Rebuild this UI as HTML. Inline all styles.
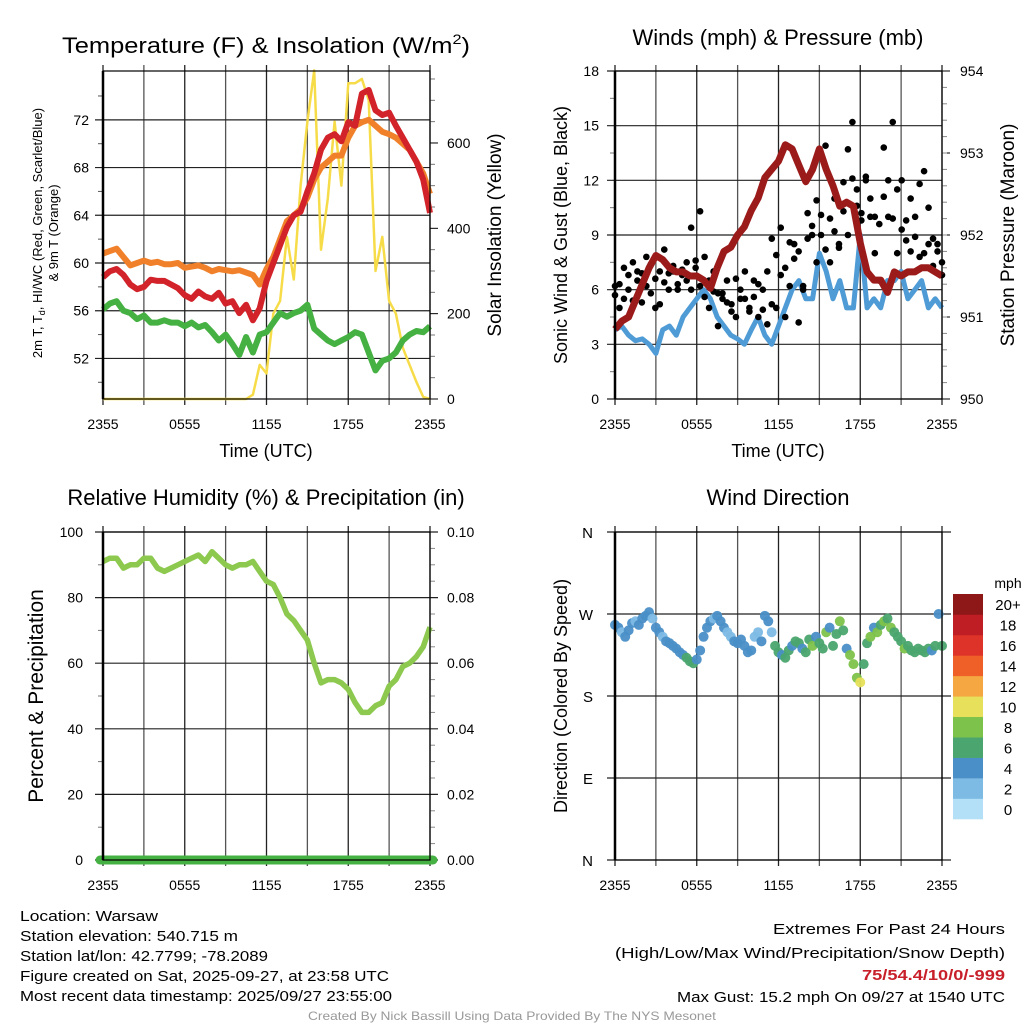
<!DOCTYPE html>
<html><head><meta charset="utf-8"><style>
html,body{margin:0;padding:0;background:#fff;}
svg{display:block;font-family:"Liberation Sans",Arial,sans-serif;}
</style></head><body>
<svg id="fig" width="1024" height="1024" viewBox="0 0 1024 1024"></svg>
<script>
// ---------- DATA ----------
const timeLabels = ["2355","0555","1155","1755","2355"];
const tempTicks = [52,56,60,64,68,72];
const solarTicks = [0,200,400,600];
const windTicks = [0,3,6,9,12,15,18];
const presTicks = [950,951,952,953,954];
const rhTicks = [0,20,40,60,80,100];
const precipTicks = ["0.00","0.02","0.04","0.06","0.08","0.10"];
const dirTicks = ["N","E","S","W","N"];
const colorbarLabels = ["0","2","4","6","8","10","12","14","16","18","20+"];
const colorbarColors = ["#b3e0f7","#7dbbe5","#4a8fc7","#4aa56e","#7dc24a","#e6e05a","#f5a742","#ef6028","#dd3328","#be1e24","#8e1717"];

const tempRed = [58.8,59.3,59.5,59.0,58.2,57.8,58.0,58.6,58.5,58.5,58.2,57.9,57.3,57.0,57.6,57.2,57.0,57.5,56.6,56.8,55.8,56.5,55.2,56.2,58.5,60.0,61.5,63.0,64.0,64.3,66.0,67.5,69.5,70.5,70.8,70.2,71.8,71.5,74.2,74.5,72.8,72.4,72.6,71.5,70.5,69.5,68.5,67.0,64.2];
const tempOrange = [60.8,61.0,61.2,60.5,59.8,60.0,60.2,60.0,60.1,59.9,59.9,60.0,59.6,59.7,59.8,59.6,59.3,59.5,59.4,59.3,59.4,59.2,59.0,58.2,59.5,60.5,62.0,63.5,64.0,64.5,65.5,67.0,68.0,68.5,69.0,69.0,70.5,71.5,71.8,72.0,71.5,71.0,70.8,70.5,70.0,69.5,68.5,67.5,65.8];
const dewGreen = [56.1,56.6,56.8,56.0,55.8,55.3,55.6,55.0,55.0,55.2,55.0,55.0,54.7,55.0,54.6,54.8,54.2,53.5,54.0,53.2,52.3,53.8,52.5,54.0,54.2,55.0,55.8,55.5,55.8,56.0,56.5,54.5,54.0,53.5,53.2,53.5,53.8,54.2,54.0,52.5,51.0,51.8,52.0,52.5,53.5,54.0,54.3,54.2,54.7];
const solar = [0,0,0,0,0,0,0,0,0,0,0,0,0,0,0,0,0,0,0,0,0,0,10,80,60,200,230,380,280,500,650,770,350,470,650,500,740,740,750,700,300,380,230,200,120,80,40,5,0];

const windSpeed = [3.8,4.0,3.5,3.2,3.3,3.0,2.5,3.8,4.0,3.5,4.5,5.0,5.5,6.0,5.5,4.5,4.0,3.5,3.3,3.0,3.8,4.5,3.5,3.0,4.0,5.0,6.0,6.5,5.5,5.5,8.0,7.0,5.5,6.5,5.0,5.0,9.0,5.0,5.5,5.0,6.5,6.5,7.0,5.5,6.0,6.5,5.0,5.5,5.0];
const pressure = [950.85,950.95,951.0,951.2,951.4,951.6,951.75,951.7,951.6,951.55,951.55,951.5,951.5,951.45,951.35,951.6,951.8,951.85,952.0,952.1,952.3,952.45,952.7,952.8,952.9,953.1,953.05,952.85,952.65,952.8,953.05,952.8,952.6,952.35,952.4,952.35,951.9,951.55,951.45,951.45,951.3,951.55,951.5,951.55,951.55,951.6,951.6,951.55,951.5];
const gustA = [5.7,6.3,5.5,6.8,7.5,6.5,6.9,7.8,5.8,5.0,5.2,8.2,6.0,7.0,6.3,6.8,7.5,6.0,7.2,10.3,7.8,6.5,7.0,5.8,5.5,5.3,4.8,4.5,6.0,5.5,5.0,6.5,4.5,6.0,7.0,5.2,5.0,6.8,4.5,6.2,8.5,4.2,6.2,8.8,9.5,7.5,9.0,8.2,7.5,9.2,8.5,10.3,9.0,15.2,11.5,10.2,12.0,10.0,8.0,6.5,13.8,12.0,15.2,11.5,12.0,9.8,11.0,10.0,11.8,12.5,10.5,8.8,8.5,7.5];
const gustB = [6.2,5.0,7.2,6.0,5.4,7.0,5.3,6.2,7.4,6.6,7.0,6.4,6.9,7.3,6.0,7.1,6.5,9.4,7.6,6.2,5.6,5.0,5.9,4.0,5.8,6.5,5.2,6.6,5.5,7.0,4.8,5.6,6.3,4.9,4.1,8.8,7.9,9.4,7.2,8.6,7.7,8.1,6.0,10.2,9.0,10.9,10.1,13.9,9.9,11.0,8.3,11.9,13.7,12.1,10.6,9.8,12.2,11.0,10.0,9.6,11.1,10.0,9.9,8.0,9.3,8.7,8.1,8.9,7.8,8.0,8.5,7.3,8.1,6.8];

const rh = [91,92,92,89,90,90,92,92,89,88,89,90,91,92,93,91,94,92,90,89,90,90,91,88,85,84,80,75,73,70,67,60,54,55,55,54,52,48,45,45,47,48,53,55,59,60,62,65,71];

const windDir = [258,255,250,245,252,260,262,258,265,268,272,265,255,250,245,240,238,235,232,228,225,222,218,216,220,230,245,255,262,265,268,262,255,250,245,240,238,242,235,228,230,245,250,240,268,262,250,235,228,225,222,230,235,240,238,232,228,242,235,245,238,232,250,255,235,248,262,252,232,225,215,200,195,215,238,245,255,250,258,262,265,255,250,245,240,232,235,230,228,232,230,228,232,230,235,270,235];
const dirSpeed = [4,4,3,4,4,4,2,4,4,4,4,2,4,4,3,4,4,4,4,4,5,6,6,6,5,4,4,4,4,3,4,4,4,2,3,4,4,4,4,4,4,3,2,4,4,4,3,6,6,5,6,6,4,6,6,4,6,7,8,4,7,6,8,4,6,7,8,6,4,8,9,8,10,7,6,8,5,8,7,8,7,8,6,7,6,8,6,7,6,6,6,7,6,4,6,4,6];

// ---------- HELPERS ----------
const NS="http://www.w3.org/2000/svg";
const svg=document.getElementById('fig');
function mk(tag,attrs,parent){const e=document.createElementNS(NS,tag);for(const k in attrs)e.setAttribute(k,attrs[k]);(parent||svg).appendChild(e);return e;}
function txt(s,x,y,size,anchor,parent,extra){const e=mk('text',Object.assign({x:x,y:y,'font-size':size,'text-anchor':anchor||'middle',fill:'#000'},extra||{}),parent);e.textContent=s;return e;}

function panel(L,R,T,B){return {L,R,T,B,x:(h)=>L+(R-L)*h/24};}
function lineX(p,arr,fy){return arr.map((v,i)=>[p.x(i*24/(arr.length-1)),fy(v)]);}
function pathOf(pts){return pts.map((p,i)=>(i?'L':'M')+p[0].toFixed(1)+' '+p[1].toFixed(1)).join(' ');}

function frame(p,name){
  const g=mk('g',{});
  
  
  for(let k=0;k<=8;k++){const x=p.x(k*3);mk('line',{x1:x,y1:p.T-6,x2:x,y2:p.B+6,stroke:k%2?'#555':'#222','stroke-width':1.3},g);}
  for(let k=0;k<5;k++){const t=txt(timeLabels[k],p.x(k*6),p.B+30,14,'middle',g);}
  return g;
}
function box(p){mk('rect',{x:p.L,y:p.T,width:p.R-p.L,height:p.B-p.T,fill:'none',stroke:'#000','stroke-width':1.2});
  mk('line',{x1:p.L,y1:p.T,x2:p.L,y2:p.B,stroke:'#000','stroke-width':2.5});}

// ---------- PANEL 1: Temperature ----------
const p1=panel(103,430,71,399);
const ty=v=>399-(v-48.6)*11.93;
const sy=v=>399-v*0.4267;
frame(p1,'temperature');
tempTicks.forEach(v=>{mk('line',{x1:p1.L-8,y1:ty(v),x2:p1.R,y2:ty(v),stroke:'#222','stroke-width':1.2});
 const t=txt(String(v),p1.L-14,ty(v)+5,14,'end');});
for(let v=50;v<=76;v+=4){mk('line',{x1:p1.L-5,y1:ty(v),x2:p1.L,y2:ty(v),stroke:'#555'});}
solarTicks.forEach(v=>{mk('line',{x1:p1.R,y1:sy(v),x2:p1.R+8,y2:sy(v),stroke:'#000'});txt(String(v),p1.R+17,sy(v)+5,14,'start');});
for(let v=50;v<=750;v+=50){if(v%200)mk('line',{x1:p1.R,y1:sy(v),x2:p1.R+5,y2:sy(v),stroke:'#777'});}
let e;
e=mk('path',{d:pathOf(lineX(p1,solar,sy)),fill:'none',stroke:'#f7dc4a','stroke-width':2.5,'stroke-linejoin':'round'});

e=mk('path',{d:pathOf(lineX(p1,tempOrange,ty)),fill:'none',stroke:'#f0812a','stroke-width':6,'stroke-linejoin':'round'});

e=mk('path',{d:pathOf(lineX(p1,tempRed,ty)),fill:'none',stroke:'#d2222a','stroke-width':6,'stroke-linejoin':'round'});

e=mk('path',{d:pathOf(lineX(p1,dewGreen,ty)),fill:'none',stroke:'#46b143','stroke-width':6,'stroke-linejoin':'round'});

box(p1);
e=txt('',266,53,22,'middle',null,{textLength:408,lengthAdjust:'spacingAndGlyphs'});e.innerHTML='Temperature (F) &amp; Insolation (W/m<tspan font-size="14" dy="-9">2</tspan><tspan dy="9">)</tspan>';

e=txt('Time (UTC)',266,457,18);
e=mk('text',{x:0,y:0,'font-size':13,'text-anchor':'middle',transform:'translate(42,233) rotate(-90)'});
e.innerHTML='2m T, T<tspan font-size="9" dy="3">d</tspan><tspan dy="-3">, HI/WC (Red, Green, Scarlet/Blue)</tspan>';

e=txt('& 9m T (Orange)',0,0,13,'middle',null,{transform:'translate(58,233) rotate(-90)'});
e=txt('Solar Insolation (Yellow)',0,0,19,'middle',null,{transform:'translate(501,235) rotate(-90)'});


// ---------- PANEL 2: Winds ----------
const p2=panel(615,942,71,399);
const wy=v=>399-v*328/18;
const py=v=>399-(v-950)*82;
frame(p2,'winds');
windTicks.forEach(v=>{mk('line',{x1:p2.L-8,y1:wy(v),x2:p2.R,y2:wy(v),stroke:'#222','stroke-width':1.2});txt(String(v),p2.L-16,wy(v)+5,14,'end');});
for(let v=1.5;v<18;v+=3)mk('line',{x1:p2.L-5,y1:wy(v),x2:p2.L,y2:wy(v),stroke:'#777'});
presTicks.forEach(v=>{mk('line',{x1:p2.R,y1:py(v),x2:p2.R+8,y2:py(v),stroke:'#000'});txt(String(v),p2.R+18,py(v)+5,14,'start');});
for(let v=950.2;v<954;v+=0.2){mk('line',{x1:p2.R,y1:py(v),x2:p2.R+5,y2:py(v),stroke:'#888'});}
e=mk('path',{d:pathOf(lineX(p2,windSpeed,wy)),fill:'none',stroke:'#4f9bd6','stroke-width':5,'stroke-linejoin':'round'});

const gg=mk('g',{fill:'#000'});
[gustA,gustB].forEach(arr=>arr.forEach((v,i)=>{mk('circle',{cx:p2.x(i*24/(arr.length-1)),cy:wy(v),r:3.3},gg);}));
e=mk('path',{d:pathOf(lineX(p2,pressure,py)),fill:'none',stroke:'#9b1b1b','stroke-width':7,'stroke-linejoin':'round'});

box(p2);
e=txt('Winds (mph) & Pressure (mb)',778,45,22);
txt('Time (UTC)',778,457,18);
e=txt('Sonic Wind & Gust (Blue, Black)',0,0,18,'middle',null,{transform:'translate(567,235) rotate(-90)'});

e=txt('Station Pressure (Maroon)',0,0,19,'middle',null,{transform:'translate(1014,235) rotate(-90)'});


// ---------- PANEL 3: RH ----------
const p3=panel(103,430,532,860);
const ry=v=>860-v*3.28;
frame(p3,'humidity');
rhTicks.forEach((v,i)=>{mk('line',{x1:p3.L-8,y1:ry(v),x2:p3.R+8,y2:ry(v),stroke:'#222','stroke-width':1.2});txt(String(v),p3.L-20,ry(v)+5,14,'end');txt(precipTicks[i],p3.R+17,ry(v)+5,14,'start');});
for(let v=10;v<100;v+=20)mk('line',{x1:p3.L-5,y1:ry(v),x2:p3.L,y2:ry(v),stroke:'#777'});
for(let v=5;v<100;v+=5)if(v%20)mk('line',{x1:p3.R,y1:ry(v),x2:p3.R+5,y2:ry(v),stroke:'#888'});
e=mk('path',{d:pathOf(lineX(p3,rh,ry)),fill:'none',stroke:'#8cc94e','stroke-width':5.5,'stroke-linejoin':'round'});

e=mk('line',{x1:p3.L-3,y1:ry(0),x2:p3.R+3,y2:ry(0),stroke:'#46b143','stroke-width':9,'stroke-linecap':'round'});

box(p3);
mk('line',{x1:p3.L,y1:ry(0),x2:p3.R,y2:ry(0),stroke:'#000','stroke-width':1});
e=txt('Relative Humidity (%) & Precipitation (in)',266,505,22);
e=txt('Percent & Precipitation',0,0,21,'middle',null,{transform:'translate(43,696) rotate(-90)'});


// ---------- PANEL 4: Wind direction ----------
const p4=panel(615,942,532,860);
const dy=v=>860-v*328/360;
frame(p4,'wind-direction');
dirTicks.forEach((s,i)=>{const y=dy(i*90);mk('line',{x1:p4.L-8,y1:y,x2:p4.R+9,y2:y,stroke:'#222','stroke-width':1.2});txt(s,p4.L-22,y+6,15,'end');});
const dg=mk('g',{});
windDir.forEach((d,i)=>{const s=dirSpeed[i];const c=colorbarColors[Math.min(10,Math.floor(s/2))];
 mk('circle',{cx:p4.x(i*24/(windDir.length-1)),cy:dy(d),r:5,fill:c,'fill-opacity':0.95},dg);});
box(p4);
e=txt('Wind Direction',778,505,22);
e=txt('Direction (Colored By Speed)',0,0,18,'middle',null,{transform:'translate(567,696) rotate(-90)'});

// colorbar
const cb=mk('g',{});
const cbT=594,cbB=819,cbH=(cbB-cbT)/colorbarColors.length;
colorbarColors.forEach((c,i)=>{const y=cbB-(i+1)*cbH;mk('rect',{x:953,y:y,width:30,height:cbH+0.3,fill:c},cb);
 txt(colorbarLabels[i],1008,y+cbH/2+6,15,'middle',cb);});
txt('mph',1008,588,14,'middle',cb);

// ---------- FOOTER ----------
const foot=["Location: Warsaw","Station elevation: 540.715 m","Station lat/lon: 42.7799; -78.2089","Figure created on Sat, 2025-09-27, at 23:58 UTC","Most recent data timestamp: 2025/09/27 23:55:00"];
const fw=[138,218,248,369,372];
foot.forEach((s,i)=>{const t=txt(s,20,921+i*20,14.5,'start',null,{textLength:fw[i],lengthAdjust:'spacingAndGlyphs'});});
txt('Extremes For Past 24 Hours',1005,934,15,'end',null,{textLength:232,lengthAdjust:'spacingAndGlyphs'});
txt('(High/Low/Max Wind/Precipitation/Snow Depth)',1005,958,15,'end',null,{textLength:390,lengthAdjust:'spacingAndGlyphs'});
e=txt('75/54.4/10/0/-999',1005,980,15,'end',null,{fill:'#c8202a','font-weight':'bold',textLength:143,lengthAdjust:'spacingAndGlyphs'});

txt('Max Gust: 15.2 mph On 09/27 at 1540 UTC',1005,1002,15,'end',null,{textLength:328,lengthAdjust:'spacingAndGlyphs'});
e=txt('Created By Nick Bassill Using Data Provided By The NYS Mesonet',512,1020,12,'middle',null,{fill:'#999',textLength:408,lengthAdjust:'spacingAndGlyphs'});

</script>
</body></html>
